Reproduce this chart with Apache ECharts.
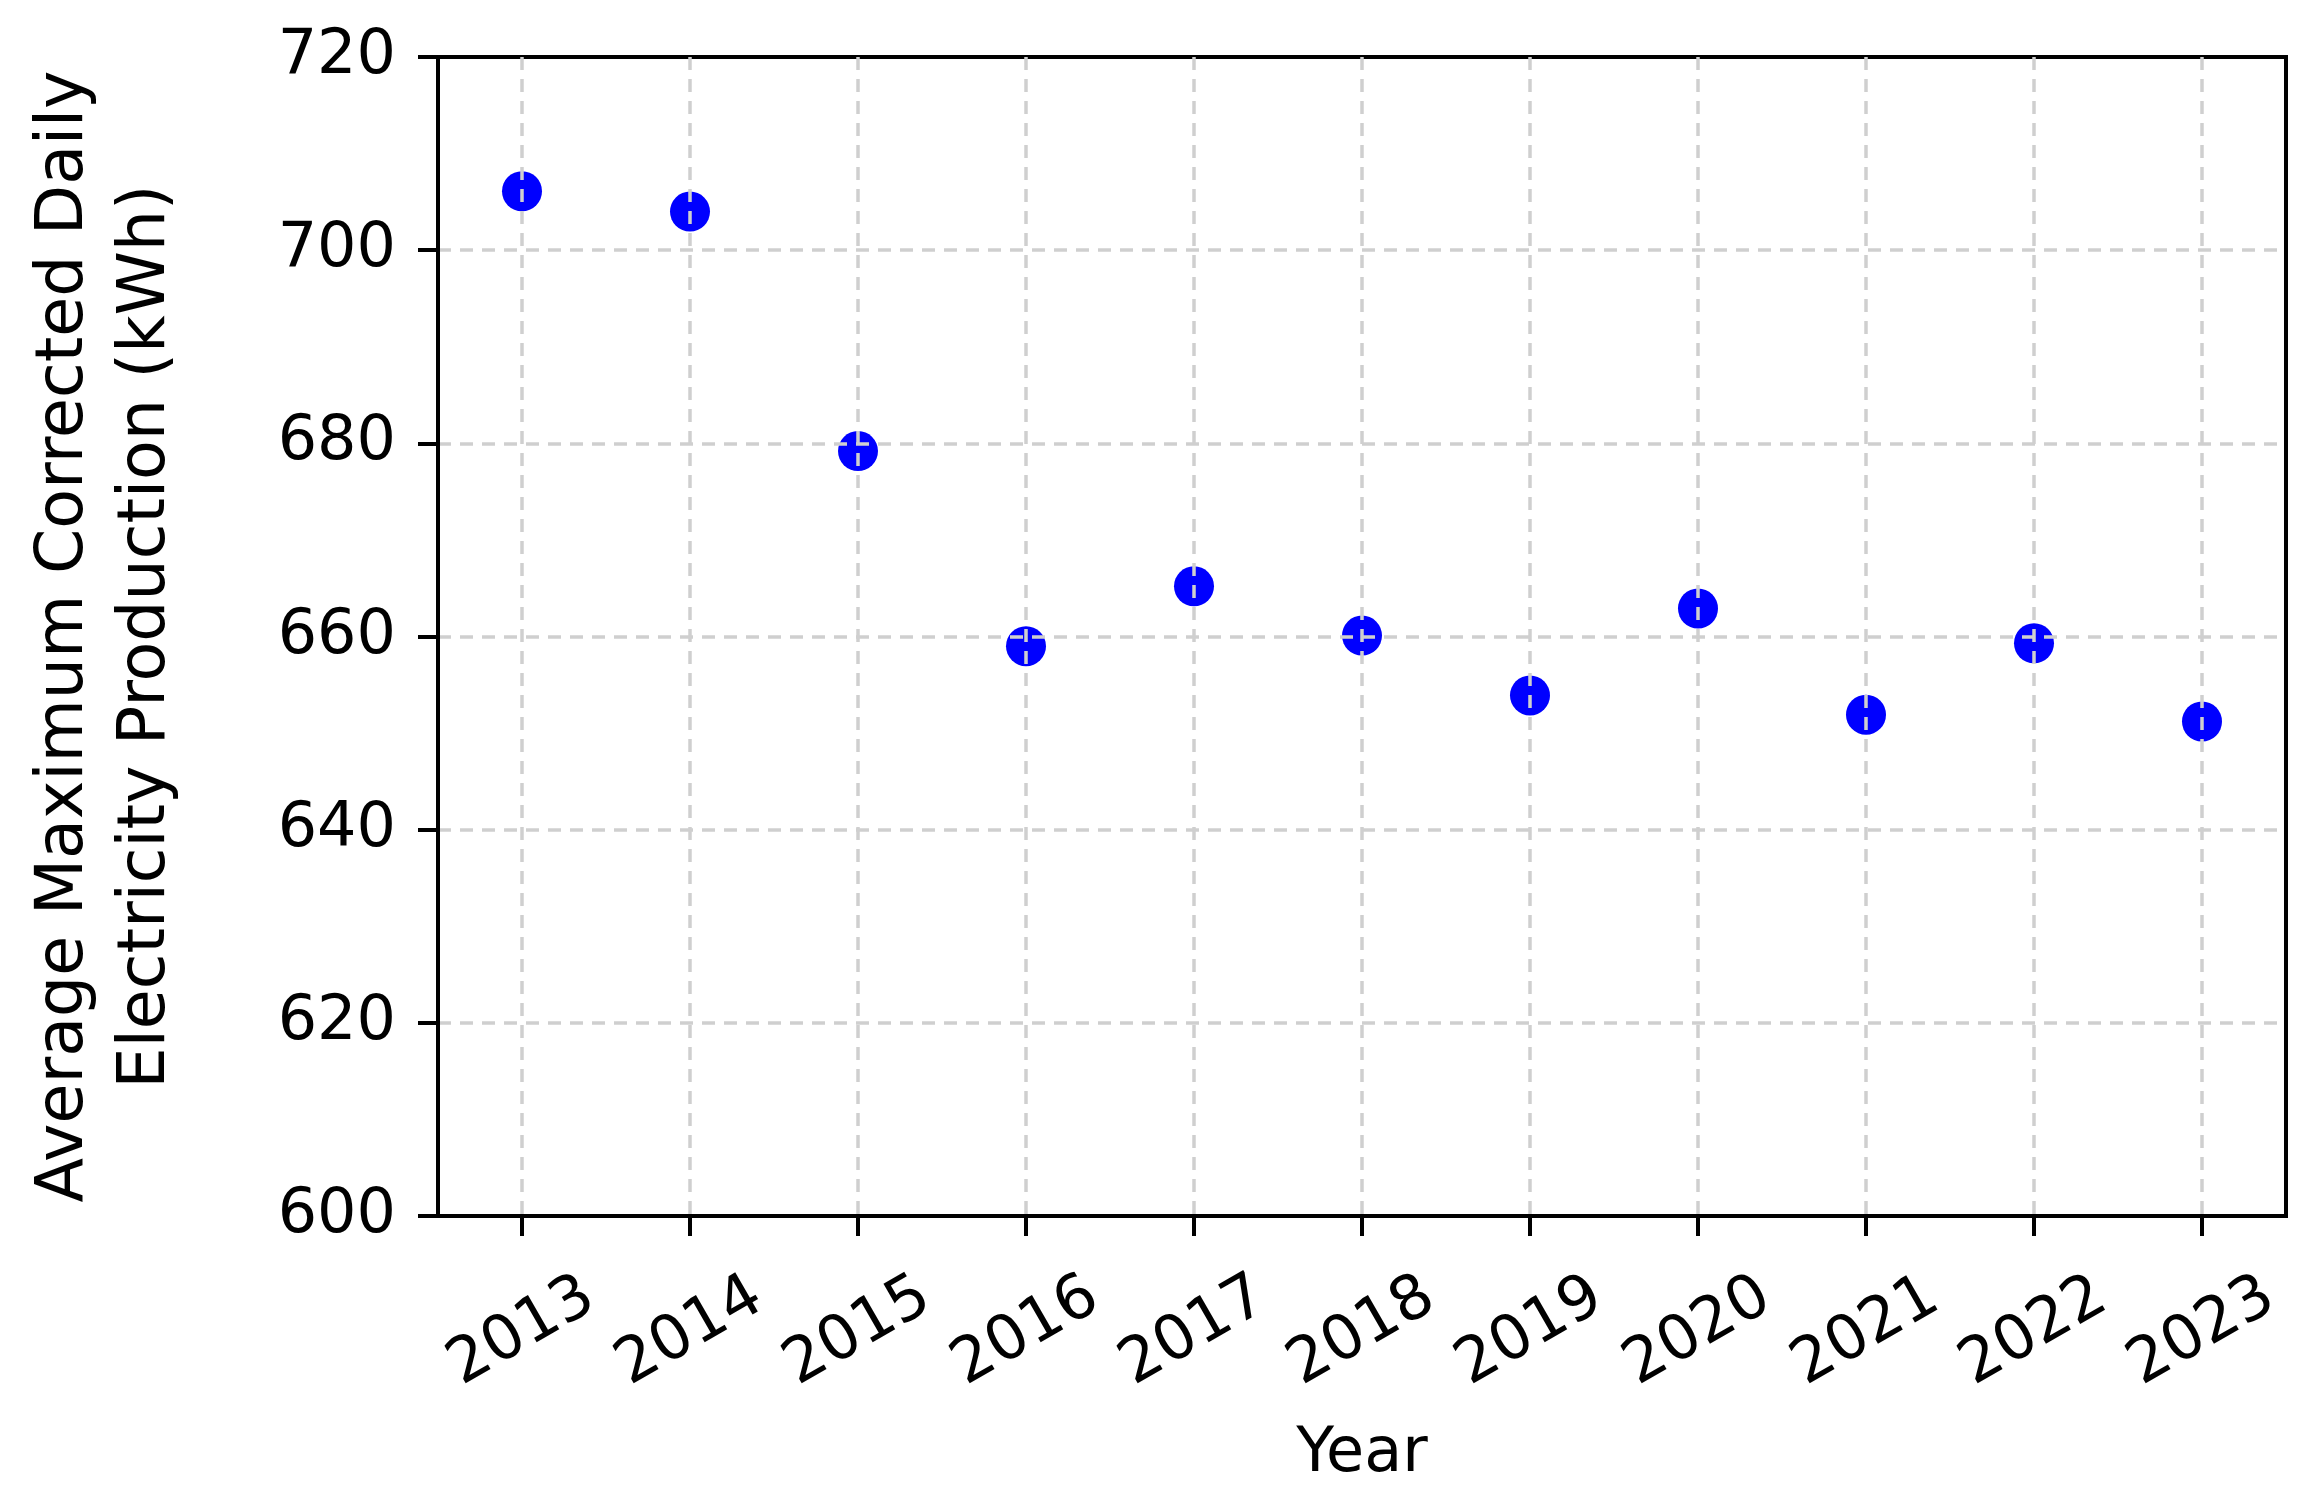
<!DOCTYPE html>
<html>
<head>
<meta charset="utf-8">
<style>
  html, body { margin: 0; padding: 0; background: #ffffff; }
  #chart { width: 2313px; height: 1502px; }
</style>
<script src="https://cdn.jsdelivr.net/npm/echarts@6/dist/echarts.min.js"></script>
</head>
<body>
<div id="chart"></div>
<script>
const years = [2013, 2014, 2015, 2016, 2017, 2018, 2019, 2020, 2021, 2022, 2023];
const production = [706.1, 704.0, 679.2, 659.0, 665.2, 660.1, 653.9, 662.9, 651.9, 659.3, 651.2];
const yTicks = [600, 620, 640, 660, 680, 700, 720];

const FONT = 'DejaVu Sans';
const gridStyle = { color: '#cfcfcf', width: 3.5, type: [13, 9] };

const chart = echarts.init(document.getElementById('chart'), null, { renderer: 'canvas' });
chart.setOption({
  animation: false,
  backgroundColor: '#ffffff',
  grid: { left: 438, right: 27, top: 57, bottom: 286, show: true, borderColor: '#000', borderWidth: 4, backgroundColor: 'transparent' },
  xAxis: {
    type: 'value',
    min: years[0] - 0.5,
    max: years[years.length - 1] + 0.5,
    z: 5,
    name: 'Year',
    nameLocation: 'middle',
    nameGap: 208,
    nameTextStyle: { fontFamily: FONT, fontSize: 62, color: '#000', verticalAlign: 'top' },
    axisLine: { show: true, lineStyle: { color: '#000', width: 4 } },
    axisTick: { show: true, length: 20, lineStyle: { color: '#000', width: 4 }, customValues: years },
    axisLabel: {
      customValues: years,
      rotate: 30, align: 'center', verticalAlign: 'middle', margin: 116,
      fontFamily: FONT, fontSize: 62, color: '#000',
      formatter: v => String(v)
    },
    splitLine: { show: true, customValues: years, showMinLine: true, showMaxLine: true, lineStyle: gridStyle }
  },
  yAxis: {
    type: 'value',
    min: yTicks[0], max: yTicks[yTicks.length - 1], interval: 20,
    z: 5,
    name: 'Average Maximum Corrected Daily\nElectricity Production (kWh)',
    nameLocation: 'middle',
    nameRotate: 90,
    nameGap: 250,
    nameTextStyle: { fontFamily: FONT, fontSize: 65, color: '#000', lineHeight: 82 },
    axisLine: { show: true, lineStyle: { color: '#000', width: 4 } },
    axisTick: { show: true, length: 20, lineStyle: { color: '#000', width: 4 } },
    axisLabel: { margin: 42, fontFamily: FONT, fontSize: 62, color: '#000' },
    splitLine: { show: true, showMinLine: false, showMaxLine: false, lineStyle: gridStyle }
  },
  series: [{
    type: 'scatter',
    z: 2,
    symbol: 'circle',
    symbolSize: 40,
    itemStyle: { color: '#0000ff', opacity: 1 },
    data: years.map((y, i) => [y, production[i]])
  }]
});
</script>
</body>
</html>
